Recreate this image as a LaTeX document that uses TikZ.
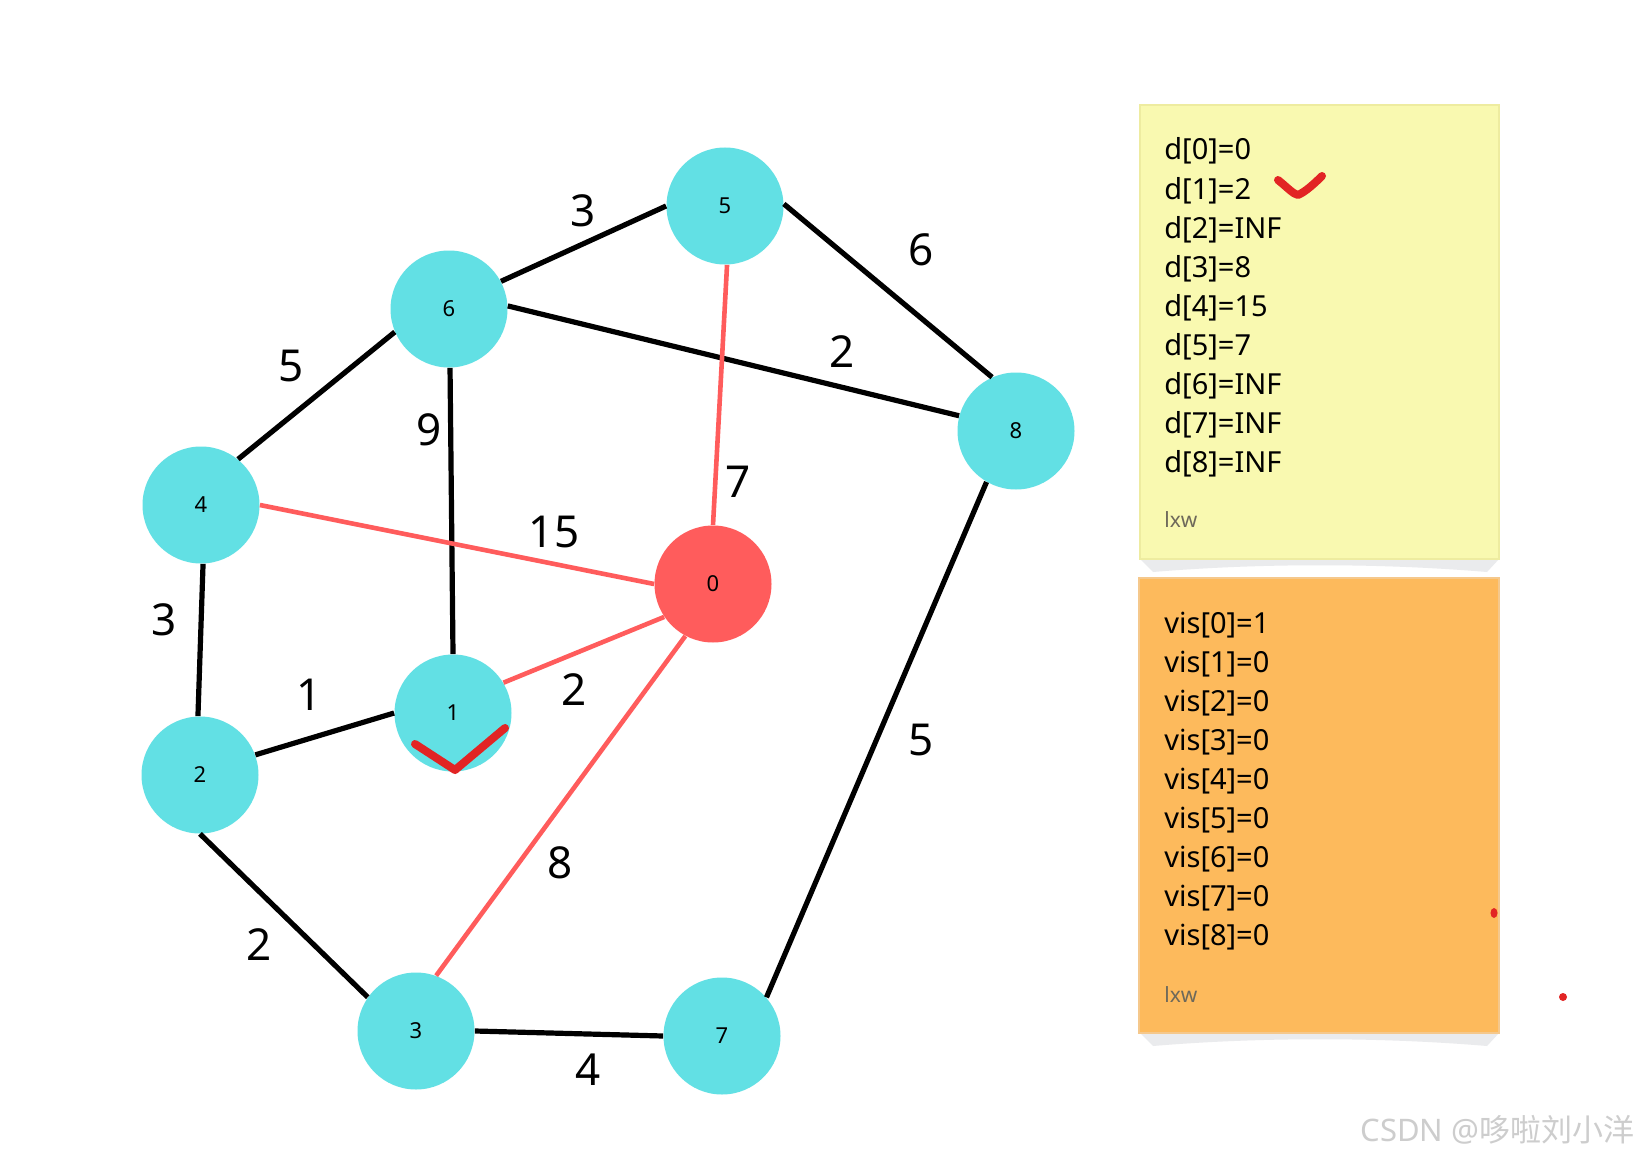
\documentclass[tikz,border=0pt]{standalone}
\usepackage{fontspec}
\setmainfont{Noto Sans}
\newfontfamily\cjk{Noto Sans CJK SC}
\definecolor{vcyan}{RGB}{98,224,228}
\definecolor{vred}{RGB}{255,92,92}
\definecolor{noteyellow}{RGB}{249,249,176}
\definecolor{noteyellowedge}{RGB}{238,236,160}
\definecolor{noteorange}{RGB}{253,186,92}
\definecolor{noteorangeedge}{RGB}{245,200,140}
\definecolor{noteshadow}{RGB}{234,235,237}
\definecolor{markred}{RGB}{226,36,36}
\definecolor{authorgray}{RGB}{110,105,90}
\definecolor{wmgray}{RGB}{205,205,205}
\tikzset{
  vertex/.style={circle, fill=vcyan, draw=none, inner sep=0pt, minimum size=58.5pt, font=\fontsize{11}{13}\selectfont},
  source/.style={vertex, fill=vred},
  blackedge/.style={line width=2.6pt, black},
  rededge/.style={line width=2.3pt, vred},
  wlabel/.style={font=\fontsize{22}{26}\selectfont, inner sep=0pt},
  notetext/.style={anchor=base west, inner sep=0pt, font=\fontsize{14.5}{17}\selectfont},
  author/.style={anchor=base west, inner sep=0pt, text=authorgray, font=\fontsize{10.5}{12}\selectfont},
  tick/.style={markred, line width=4pt, line cap=round, line join=round}
}
\begin{document}
\begin{tikzpicture}[x=0.5pt, y=-0.5pt]
\useasboundingbox[fill=white] (0,0) rectangle (1639,1156);

% sticky notes
\fill[noteshadow] (1140,559) -- (1499,559) -- (1487,572) .. controls (1380,563) and (1260,563) .. (1153,572) -- cycle;
\filldraw[fill=noteyellow, draw=noteyellowedge, line width=0.6pt] (1140,105) rectangle (1499,559);
\fill[noteshadow] (1140,1033) -- (1499,1033) -- (1487,1046) .. controls (1380,1037) and (1260,1037) .. (1153,1046) -- cycle;
\filldraw[fill=noteorange, draw=noteorangeedge, line width=0.6pt] (1139,578) rectangle (1499,1033);

\node[notetext] (d0) at (1164,160) {d[0]=0};
\node[notetext] (d1) at (1164,199) {d[1]=2};
\node[notetext] (d2) at (1164,238) {d[2]=INF};
\node[notetext] (d3) at (1164,277) {d[3]=8};
\node[notetext] (d4) at (1164,316) {d[4]=15};
\node[notetext] (d5) at (1164,355) {d[5]=7};
\node[notetext] (d6) at (1164,394) {d[6]=INF};
\node[notetext] (d7) at (1164,433) {d[7]=INF};
\node[notetext] (d8) at (1164,472) {d[8]=INF};
\node[author] (a1) at (1164,527) {lxw};

\node[notetext] (v0) at (1164,633) {vis[0]=1};
\node[notetext] (v1) at (1164,672) {vis[1]=0};
\node[notetext] (v2) at (1164,711) {vis[2]=0};
\node[notetext] (v3) at (1164,750) {vis[3]=0};
\node[notetext] (v4) at (1164,789) {vis[4]=0};
\node[notetext] (v5) at (1164,828) {vis[5]=0};
\node[notetext] (v6) at (1164,867) {vis[6]=0};
\node[notetext] (v7) at (1164,906) {vis[7]=0};
\node[notetext] (v8) at (1164,945) {vis[8]=0};
\node[author] (a2) at (1164,1002) {lxw};

% graph nodes
\node[vertex] (n5) at (725,206) {5};
\node[vertex] (n6) at (449,309) {6};
\node[vertex] (n8) at (1016,431) {8};
\node[vertex] (n4) at (201,505) {4};
\node[source] (n0) at (713,584) {0};
\node[vertex] (n1) at (453,713) {1};
\node[vertex] (n2) at (200,775) {2};
\node[vertex] (n3) at (416,1031) {3};
\node[vertex] (n7) at (722,1036) {7};

% edges (attached at fixed connection points)
\draw[blackedge] (n5.180) -- (n6.28);
\draw[blackedge] (n5.2) -- (n8.114);
\draw[blackedge] (n6.3) -- (n8.165);
\draw[blackedge] (n6.203) -- (n4.51);
\draw[blackedge] (n6.271) -- (n1.90);
\draw[blackedge] (n4.272) -- (n2.92);
\draw[blackedge] (n2.20) -- (n1.180);
\draw[blackedge] (n2.270) -- (n3.145);
\draw[blackedge] (n3.0) -- (n7.180);
\draw[blackedge] (n8.240) -- (n7.41);
\draw[rededge] (n5.272) -- (n0.90);
\draw[rededge] (n4.0) -- (n0.180);
\draw[rededge] (n1.31) -- (n0.214);
\draw[rededge] (n3.70) -- (n0.242);

% weights
\node[wlabel] (w56) at (583,211) {3};
\node[wlabel] (w58) at (921,250) {6};
\node[wlabel] (w68) at (842,352) {2};
\node[wlabel] (w64) at (291,366) {5};
\node[wlabel] (w61) at (429,430) {9};
\node[wlabel] (w50) at (738,482) {7};
\node[wlabel] (w40) at (554,532) {15};
\node[wlabel] (w42) at (164,620) {3};
\node[wlabel] (w21) at (309,695) {1};
\node[wlabel] (w10) at (574,690) {2};
\node[wlabel] (w87) at (921,740) {5};
\node[wlabel] (w30) at (560,863) {8};
\node[wlabel] (w23) at (259,945) {2};
\node[wlabel] (w37) at (588,1070) {4};

% red marks
\draw[tick] (415,744) -- (455,770) -- (505,728);
\draw[tick] (1278,180) .. controls (1288,188) and (1293,194) .. (1298,195) .. controls (1305,192) and (1314,184) .. (1322,176);
\fill[markred] (1494,913) ellipse (3.5 and 5);
\fill[markred] (1563,997) circle (4);

% watermark
\node[anchor=west, inner sep=0pt, text=wmgray, font=\fontsize{15.5}{18}\selectfont] (wm) at (1360,1130) {CSDN @{\cjk 哆啦刘小洋}};
\end{tikzpicture}
\end{document}
